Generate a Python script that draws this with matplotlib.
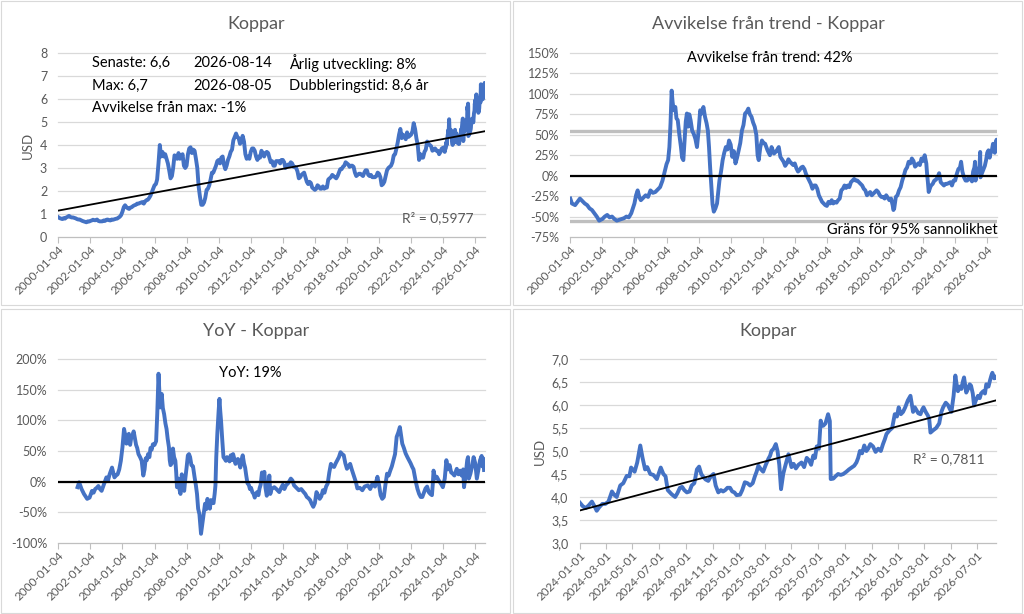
import matplotlib
matplotlib.use('Agg')
import matplotlib.pyplot as plt
import matplotlib.dates as mdates
from matplotlib.patches import Rectangle
from matplotlib.ticker import FuncFormatter, MultipleLocator
import numpy as np
import pandas as pd
from datetime import datetime, timedelta

plt.rcParams['font.family'] = ['Lato', 'DejaVu Sans']

# ---------------- data ----------------
# Monthly copper price (USD) 2000-01 .. 2023-12
price_monthly = [
    0.86, 0.82, 0.80, 0.78, 0.82, 0.80, 0.85, 0.88, 0.92, 0.87, 0.85, 0.85,
    0.83, 0.81, 0.78, 0.76, 0.76, 0.73, 0.70, 0.68, 0.66, 0.64, 0.68, 0.67,
    0.70, 0.72, 0.75, 0.73, 0.73, 0.76, 0.70, 0.68, 0.68, 0.68, 0.72, 0.70,
    0.75, 0.76, 0.73, 0.72, 0.76, 0.75, 0.77, 0.79, 0.80, 0.84, 0.88, 0.95,
    1.10, 1.30, 1.38, 1.30, 1.25, 1.22, 1.28, 1.30, 1.35, 1.38, 1.40, 1.45,
    1.45, 1.48, 1.50, 1.52, 1.45, 1.55, 1.60, 1.62, 1.70, 1.80, 1.95, 2.10,
    2.25, 2.30, 2.50, 3.20, 4.00, 3.50, 3.70, 3.50, 3.60, 3.40, 3.20, 2.90,
    2.55, 2.65, 3.00, 3.55, 3.50, 3.40, 3.65, 3.40, 3.45, 3.60, 3.10, 3.00,
    3.10, 3.60, 3.85, 3.90, 3.65, 3.80, 3.75, 3.40, 3.00, 2.20, 1.75, 1.40,
    1.40, 1.50, 1.70, 2.05, 2.10, 2.25, 2.50, 2.80, 2.80, 2.95, 3.10, 3.30,
    3.35, 3.20, 3.45, 3.50, 3.15, 2.95, 3.10, 3.35, 3.50, 3.70, 3.80, 4.20,
    4.35, 4.50, 4.35, 4.30, 4.05, 4.15, 4.40, 4.15, 3.60, 3.40, 3.50, 3.40,
    3.70, 3.85, 3.85, 3.75, 3.50, 3.35, 3.50, 3.45, 3.75, 3.65, 3.50, 3.65,
    3.70, 3.65, 3.45, 3.25, 3.30, 3.10, 3.10, 3.30, 3.30, 3.30, 3.20, 3.35,
    3.35, 3.25, 3.00, 3.05, 3.15, 3.10, 3.25, 3.20, 3.05, 3.05, 3.00, 2.85,
    2.55, 2.60, 2.70, 2.75, 2.80, 2.60, 2.40, 2.30, 2.40, 2.35, 2.15, 2.10,
    2.05, 2.10, 2.25, 2.20, 2.10, 2.10, 2.20, 2.10, 2.15, 2.15, 2.50, 2.55,
    2.60, 2.70, 2.65, 2.60, 2.55, 2.65, 2.80, 2.95, 2.95, 3.05, 3.10, 3.25,
    3.20, 3.15, 3.05, 3.10, 3.10, 3.05, 2.80, 2.65, 2.70, 2.75, 2.75, 2.70,
    2.65, 2.80, 2.90, 2.90, 2.70, 2.65, 2.70, 2.60, 2.60, 2.60, 2.65, 2.80,
    2.75, 2.60, 2.25, 2.30, 2.40, 2.65, 2.90, 3.00, 3.05, 3.10, 3.25, 3.55,
    3.60, 3.85, 4.10, 4.45, 4.70, 4.30, 4.45, 4.35, 4.25, 4.55, 4.35, 4.40,
    4.45, 4.60, 4.95, 4.70, 4.30, 4.00, 3.35, 3.60, 3.45, 3.45, 3.70, 3.80,
    4.15, 4.05, 4.00, 3.95, 3.75, 3.80, 3.85, 3.75, 3.75, 3.60, 3.70, 3.85,
]

# Recent copper price (USD) 2024-01 .. 2026-08 (one line per month)
recent_dates = [
    '2024-01-01', '2024-01-08', '2024-01-15', '2024-01-22', '2024-01-29',
    '2024-02-05', '2024-02-09', '2024-02-15', '2024-02-22', '2024-02-29',
    '2024-03-07', '2024-03-15', '2024-03-20', '2024-03-26',
    '2024-04-03', '2024-04-10', '2024-04-18', '2024-04-24', '2024-04-28',
    '2024-05-06', '2024-05-12', '2024-05-19', '2024-05-24', '2024-05-30',
    '2024-06-04', '2024-06-11', '2024-06-18', '2024-06-26',
    '2024-07-05', '2024-07-11', '2024-07-16', '2024-07-21', '2024-07-26', '2024-07-30',
    '2024-08-07', '2024-08-12', '2024-08-18', '2024-08-23', '2024-08-28',
    '2024-09-03', '2024-09-09', '2024-09-14', '2024-09-20', '2024-09-26',
    '2024-10-01', '2024-10-06', '2024-10-11', '2024-10-16', '2024-10-22', '2024-10-28',
    '2024-11-03', '2024-11-08', '2024-11-14', '2024-11-20', '2024-11-25', '2024-11-30',
    '2024-12-05', '2024-12-11', '2024-12-16', '2024-12-21', '2024-12-26',
    '2025-01-03', '2025-01-08', '2025-01-14', '2025-01-20', '2025-01-26',
    '2025-02-01', '2025-02-06', '2025-02-10', '2025-02-14', '2025-02-20', '2025-02-25',
    '2025-03-03', '2025-03-09', '2025-03-13', '2025-03-16', '2025-03-21', '2025-03-26', '2025-03-30',
    '2025-04-03', '2025-04-07', '2025-04-12', '2025-04-16', '2025-04-20', '2025-04-24',
    '2025-05-01', '2025-05-06', '2025-05-11', '2025-05-17', '2025-05-24', '2025-05-30',
    '2025-06-05', '2025-06-10', '2025-06-15', '2025-06-20', '2025-06-24', '2025-06-28',
    '2025-07-03', '2025-07-07', '2025-07-10', '2025-07-13', '2025-07-18', '2025-07-24', '2025-07-28', '2025-07-30',
    '2025-08-05', '2025-08-10', '2025-08-16', '2025-08-22', '2025-08-28',
    '2025-09-04', '2025-09-10', '2025-09-16', '2025-09-22', '2025-09-27',
    '2025-10-01', '2025-10-05', '2025-10-10', '2025-10-15', '2025-10-20', '2025-10-24', '2025-10-29',
    '2025-11-04', '2025-11-10', '2025-11-16', '2025-11-22', '2025-11-27',
    '2025-12-01', '2025-12-05', '2025-12-12', '2025-12-18', '2025-12-24', '2025-12-29',
    '2026-01-02', '2026-01-07', '2026-01-12', '2026-01-17', '2026-01-23', '2026-01-29',
    '2026-02-04', '2026-02-08', '2026-02-11', '2026-02-16', '2026-02-21', '2026-02-25', '2026-02-28',
    '2026-03-05', '2026-03-10', '2026-03-13', '2026-03-16', '2026-03-22', '2026-03-29',
    '2026-04-05', '2026-04-10', '2026-04-14', '2026-04-20', '2026-04-25', '2026-04-30',
    '2026-05-03', '2026-05-08', '2026-05-12', '2026-05-15', '2026-05-18', '2026-05-22', '2026-05-26', '2026-05-29',
    '2026-06-01', '2026-06-06', '2026-06-10', '2026-06-14', '2026-06-17', '2026-06-21', '2026-06-24', '2026-06-28',
    '2026-07-03', '2026-07-07', '2026-07-10', '2026-07-15', '2026-07-19', '2026-07-22', '2026-07-27', '2026-07-31',
    '2026-08-03', '2026-08-05', '2026-08-09', '2026-08-12', '2026-08-14',
]
recent_price = [
    3.88, 3.80, 3.76, 3.82, 3.90,
    3.78, 3.70, 3.78, 3.85, 3.85,
    3.90, 4.12, 4.05, 4.00,
    4.25, 4.30, 4.46, 4.45, 4.64,
    4.55, 4.75, 5.12, 4.86, 4.60,
    4.65, 4.50, 4.48, 4.39,
    4.64, 4.50, 4.45, 4.15, 4.10, 4.06,
    4.00, 4.08, 4.20, 4.22, 4.15,
    4.10, 4.12, 4.25, 4.30, 4.60,
    4.66, 4.50, 4.43, 4.38, 4.35, 4.45,
    4.50, 4.25, 4.10, 4.15, 4.12, 4.15,
    4.20, 4.20, 4.12, 4.10, 4.04,
    4.05, 4.15, 4.32, 4.30, 4.25,
    4.30, 4.45, 4.55, 4.68, 4.60, 4.55,
    4.70, 4.83, 4.90, 5.00, 5.05, 5.15, 5.00,
    4.70, 4.17, 4.50, 4.65, 4.79, 4.93,
    4.65, 4.72, 4.62, 4.70, 4.75, 4.65,
    4.85, 4.80, 4.70, 4.90, 4.85, 5.10,
    5.05, 5.66, 5.55, 5.55, 5.60, 5.80, 5.65, 4.39,
    4.40, 4.45, 4.50, 4.48, 4.50,
    4.55, 4.60, 4.64, 4.68, 4.75,
    4.85, 5.00, 4.95, 5.12, 5.00, 5.05, 5.15,
    5.10, 4.98, 5.05, 5.00, 5.15,
    5.25, 5.37, 5.45, 5.50, 5.80, 5.75,
    5.95, 5.80, 5.85, 5.95, 6.10, 6.20,
    5.85, 5.95, 5.90, 5.82, 5.80, 5.90, 5.95,
    5.85, 5.77, 5.70, 5.40, 5.45, 5.50,
    5.60, 5.85, 5.95, 6.05, 6.00, 5.90,
    5.85, 6.20, 6.64, 6.45, 6.30, 6.40, 6.35, 6.50,
    6.60, 6.27, 6.35, 6.45, 6.42, 6.25, 5.99, 6.10,
    6.20, 6.15, 6.25, 6.30, 6.25, 6.45, 6.40, 6.55,
    6.65, 6.70, 6.58, 6.62, 6.60,
]

# Deviation from trend (%), time in years from 2000-01-04
dev_years = [
    2000.0, 2000.1, 2000.3, 2000.45, 2000.6, 2000.75, 2000.9, 2001.05, 2001.2, 2001.35,
    2001.5, 2001.65, 2001.8, 2001.9, 2002.0, 2002.15, 2002.3, 2002.45, 2002.6, 2002.75,
    2002.9, 2003.05, 2003.2, 2003.35, 2003.5, 2003.65, 2003.8, 2003.9, 2004.0, 2004.1,
    2004.2, 2004.3, 2004.4, 2004.55, 2004.7, 2004.85, 2005.0, 2005.15, 2005.3, 2005.45,
    2005.6, 2005.75, 2005.9, 2006.0, 2006.1, 2006.18, 2006.25, 2006.32, 2006.38, 2006.45,
    2006.55, 2006.62, 2006.7, 2006.8, 2006.9, 2006.97, 2007.05, 2007.12, 2007.2, 2007.27,
    2007.35, 2007.42, 2007.5, 2007.6, 2007.7, 2007.8, 2007.9, 2008.0, 2008.1, 2008.2,
    2008.3, 2008.4, 2008.5, 2008.58, 2008.65, 2008.72, 2008.8, 2008.87, 2008.95, 2009.05,
    2009.15, 2009.3, 2009.4, 2009.5, 2009.6, 2009.7, 2009.8, 2009.9, 2010.0, 2010.1,
    2010.2, 2010.3, 2010.4, 2010.5, 2010.6, 2010.7, 2010.8, 2010.9, 2011.0, 2011.1,
    2011.2, 2011.3, 2011.4, 2011.5, 2011.6, 2011.68, 2011.75, 2011.85, 2011.95, 2012.05,
    2012.15, 2012.3, 2012.45, 2012.55, 2012.7, 2012.85, 2013.0, 2013.1, 2013.2, 2013.3,
    2013.4, 2013.5, 2013.6, 2013.7, 2013.8, 2013.9, 2014.0, 2014.1, 2014.2, 2014.3,
    2014.4, 2014.5, 2014.6, 2014.7, 2014.8, 2014.9, 2015.0, 2015.1, 2015.2, 2015.3,
    2015.4, 2015.5, 2015.6, 2015.7, 2015.8, 2015.9, 2016.0, 2016.1, 2016.2, 2016.3,
    2016.4, 2016.5, 2016.6, 2016.7, 2016.8, 2016.9, 2017.0, 2017.1, 2017.2, 2017.3,
    2017.4, 2017.5, 2017.6, 2017.7, 2017.8, 2017.9, 2018.0, 2018.1, 2018.2, 2018.3,
    2018.4, 2018.5, 2018.6, 2018.7, 2018.8, 2018.9, 2019.0, 2019.1, 2019.2, 2019.3,
    2019.4, 2019.5, 2019.6, 2019.7, 2019.8, 2019.9, 2020.0, 2020.1, 2020.15, 2020.2,
    2020.3, 2020.4, 2020.5, 2020.6, 2020.7, 2020.8, 2020.9, 2021.0, 2021.1, 2021.2,
    2021.3, 2021.4, 2021.5, 2021.6, 2021.7, 2021.8, 2021.9, 2022.0, 2022.1, 2022.2,
    2022.25, 2022.3, 2022.35, 2022.45, 2022.5, 2022.6, 2022.7, 2022.8, 2022.9, 2023.0,
    2023.1, 2023.2, 2023.3, 2023.4, 2023.5, 2023.6, 2023.7, 2023.8, 2023.9, 2024.0,
    2024.1, 2024.2, 2024.3, 2024.37, 2024.45, 2024.55, 2024.65, 2024.75, 2024.85, 2024.95,
    2025.05, 2025.12, 2025.2, 2025.24, 2025.27, 2025.35, 2025.45, 2025.52, 2025.56, 2025.58,
    2025.65, 2025.75, 2025.85, 2025.93, 2026.0, 2026.08, 2026.15, 2026.2, 2026.28, 2026.36,
    2026.42, 2026.47, 2026.52, 2026.58, 2026.61,
]
dev_pct = [
    -28, -34, -36, -32, -28, -31, -34, -36, -40, -42,
    -46, -50, -55, -54, -53, -50, -48, -51, -50, -53,
    -55, -54, -53, -52, -50, -51, -46, -40, -34, -24,
    -18, -26, -30, -27, -24, -26, -18, -21, -20, -17,
    -14, -6, 6, 14, 19, 35, 64, 104, 90, 80,
    84, 70, 68, 50, 35, 22, 19, 40, 66, 76,
    60, 75, 68, 55, 51, 45, 35, 55, 80, 76,
    84, 72, 64, 55, 35, 10, -14, -35, -44, -40,
    -34, -6, 5, 19, 28, 35, 32, 43, 38, 23,
    30, 15, 22, 31, 40, 55, 62, 76, 78, 82,
    75, 72, 65, 60, 50, 25, 19, 35, 43, 40,
    39, 31, 25, 35, 27, 30, 35, 23, 20, 17,
    12, 15, 20, 17, 15, 13, 15, 9, 5, 7,
    10, 11, 8, 2, -2, -6, -10, -16, -12, -12,
    -16, -24, -28, -32, -34, -36, -37, -32, -34, -30,
    -34, -32, -33, -30, -28, -18, -16, -12, -15, -12,
    -14, -8, -6, -4, -6, -6, -8, -10, -12, -16,
    -18, -24, -22, -20, -24, -22, -20, -18, -20, -24,
    -26, -26, -28, -24, -27, -30, -28, -36, -42, -40,
    -26, -24, -18, -14, -6, 0, 7, 10, 17, 15,
    21, 18, 11, 13, 15, 13, 21, 18, 25, 15,
    2, -8, -20, -14, -12, -10, -6, -5, -2, 3,
    -8, -10, -12, -10, -10, -9, -8, -12, -6, -6,
    2, 8, 10, 17, 5, -2, -6, -6, -2, -4,
    -7, 5, 10, 17, -6, 5, 7, 12, 29, -2,
    2, 7, 12, 19, 28, 31, 22, 27, 30, 39,
    33, 28, 40, 44, 42,
]

# Year-over-year change (%), time in years from 2000-01-04
yoy_years = [
    2001.2, 2001.3, 2001.45, 2001.6, 2001.7, 2001.8, 2001.95, 2002.1, 2002.2, 2002.3,
    2002.4, 2002.5, 2002.6, 2002.7, 2002.85, 2003.0, 2003.1, 2003.2, 2003.35, 2003.5,
    2003.6, 2003.7, 2003.8, 2003.9, 2004.0, 2004.1, 2004.18, 2004.25, 2004.33, 2004.4,
    2004.48, 2004.55, 2004.62, 2004.7, 2004.78, 2004.85, 2004.92, 2005.0, 2005.1, 2005.2,
    2005.3, 2005.38, 2005.45, 2005.52, 2005.6, 2005.68, 2005.75, 2005.82, 2005.9, 2006.0,
    2006.1, 2006.17, 2006.25, 2006.3, 2006.35, 2006.4, 2006.45, 2006.52, 2006.6, 2006.68,
    2006.75, 2006.82, 2006.9, 2006.95, 2007.0, 2007.08, 2007.15, 2007.22, 2007.3, 2007.35,
    2007.4, 2007.48, 2007.55, 2007.62, 2007.7, 2007.78, 2007.85, 2007.92, 2008.0, 2008.08,
    2008.15, 2008.22, 2008.3, 2008.4, 2008.5, 2008.58, 2008.65, 2008.72, 2008.8, 2008.85,
    2008.9, 2008.95, 2009.0, 2009.08, 2009.15, 2009.22, 2009.3, 2009.38, 2009.45, 2009.52,
    2009.6, 2009.68, 2009.75, 2009.8, 2009.85, 2009.92, 2010.0, 2010.05, 2010.1, 2010.15,
    2010.22, 2010.3, 2010.38, 2010.45, 2010.52, 2010.6, 2010.68, 2010.75, 2010.82, 2010.9,
    2010.97, 2011.05, 2011.12, 2011.2, 2011.28, 2011.35, 2011.42, 2011.5, 2011.58, 2011.65,
    2011.72, 2011.8, 2011.88, 2011.95, 2012.02, 2012.1, 2012.18, 2012.25, 2012.32, 2012.4,
    2012.48, 2012.55, 2012.62, 2012.7, 2012.78, 2012.85, 2012.92, 2013.0, 2013.08, 2013.16,
    2013.22, 2013.3, 2013.47, 2013.6, 2013.78, 2013.9, 2014.0, 2014.1, 2014.2, 2014.35,
    2014.5, 2014.6, 2014.7, 2014.85, 2015.0, 2015.15, 2015.3, 2015.4, 2015.5, 2015.6,
    2015.7, 2015.8, 2015.9, 2016.0, 2016.1, 2016.2, 2016.3, 2016.4, 2016.5, 2016.6,
    2016.7, 2016.8, 2016.9, 2017.0, 2017.1, 2017.2, 2017.3, 2017.4, 2017.5, 2017.6,
    2017.7, 2017.8, 2017.9, 2018.0, 2018.1, 2018.2, 2018.3, 2018.45, 2018.55, 2018.65,
    2018.8, 2018.96, 2019.1, 2019.3, 2019.45, 2019.6, 2019.75, 2019.9, 2020.0, 2020.1,
    2020.2, 2020.3, 2020.4, 2020.5, 2020.6, 2020.7, 2020.8, 2020.9, 2021.0, 2021.1,
    2021.2, 2021.3, 2021.38, 2021.45, 2021.55, 2021.66, 2021.77, 2021.87, 2021.97, 2022.07,
    2022.15, 2022.22, 2022.3, 2022.4, 2022.5, 2022.6, 2022.7, 2022.8, 2022.9, 2023.0,
    2023.1, 2023.2, 2023.3, 2023.35, 2023.4, 2023.5, 2023.6, 2023.7, 2023.8, 2023.9,
    2023.98, 2024.1, 2024.2, 2024.3, 2024.4, 2024.5, 2024.6, 2024.7, 2024.85, 2024.95,
    2025.05, 2025.15, 2025.25, 2025.3, 2025.4, 2025.5, 2025.55, 2025.6, 2025.7, 2025.8,
    2025.9, 2026.0, 2026.1, 2026.2, 2026.3, 2026.4, 2026.45, 2026.5, 2026.55,
]
yoy_pct = [
    -9, -1, -12, -20, -24, -28, -26, -15, -18, -12,
    -10, -7, -12, -15, -4, 7, 2, 12, 23, 7,
    10, 12, 20, 34, 56, 86, 75, 62, 72, 78,
    60, 72, 75, 82, 70, 60, 55, 45, 40, 34,
    10, 20, 38, 35, 45, 40, 55, 52, 61, 60,
    66, 110, 176, 150, 121, 135, 143, 120, 110, 95,
    86, 70, 56, 35, 27, 30, 54, 40, 34, 16,
    -9, 5, -12, -20, 12, -5, -15, 5, 23, 43,
    45, 40, 27, 25, 7, -6, -20, -44, -53, -70,
    -85, -75, -64, -50, -36, -45, -28, -35, -44, -30,
    -33, -35, -20, -6, 40, 80, 116, 135, 115, 99,
    70, 40, 37, 34, 40, 37, 33, 43, 35, 45,
    38, 29, 35, 37, 30, 23, 35, 43, 30, 23,
    10, -3, -5, -12, -10, -17, -20, -26, -20, -17,
    -22, -11, -5, 15, 8, 16, -10, -23, -15, 10,
    -20, -12, -9, -12, -17, -10, -5, -12, -6, -2,
    5, 2, -6, -10, -14, -12, -17, -20, -25, -27,
    -30, -36, -41, -35, -17, -22, -28, -24, -14, -18,
    -8, -3, 15, 29, 25, 24, 30, 35, 40, 48,
    45, 43, 30, 21, 25, 29, 20, 8, 0, -11,
    -10, -14, -8, -6, -12, -3, -8, 8, -5, -22,
    -28, -25, -5, 13, 10, 18, 25, 35, 45, 73,
    80, 89, 75, 62, 55, 46, 40, 35, 30, 24,
    20, 10, -1, -12, -20, -25, -25, -18, -11, -8,
    -17, -20, -22, -5, 18, 5, 8, 3, -1, -5,
    -9, 5, 35, 20, 27, 15, 13, 10, 21, 12,
    18, 10, 20, -9, 10, 35, 40, 5, 13, 25,
    40, 30, 5, 20, 35, 42, 25, 38, 19,
]

long_ticks = [f'{y}-01-04' for y in range(2000, 2027, 2)]
recent_ticks = ['2024-01-01', '2024-03-01', '2024-05-01', '2024-07-01', '2024-09-01',
                '2024-11-01', '2025-01-01', '2025-03-01', '2025-05-01', '2025-07-01',
                '2025-09-01', '2025-11-01', '2026-01-01', '2026-03-01', '2026-05-01',
                '2026-07-01']

# ---------------- helpers ----------------
W, H = 1024, 614
BLUE = '#4472C4'
GRAY_TXT = '#595959'
GRID = '#D9D9D9'
LW = 2.8

base = datetime(2000, 1, 4)


def yrs_to_dates(yrs):
    return [base + timedelta(days=(y - 2000.0) * 365.25) for y in yrs]


monthly_dates = list(pd.date_range('2000-01-01', periods=len(price_monthly), freq='MS') + pd.Timedelta(days=3))
rec_dates = list(pd.to_datetime(recent_dates))
long_dates = monthly_dates + rec_dates
long_price = list(price_monthly) + list(recent_price)
end_date = pd.Timestamp(recent_dates[-1])


def trend(dates, vals):
    x = mdates.date2num(dates)
    w = np.sqrt(np.gradient(x))
    c = np.polyfit(x, np.asarray(vals), 1, w=w)
    xs = np.array([x[0], x[-1]])
    return mdates.num2date(xs), np.polyval(c, xs)


def fx(px):
    return px / W


def fy(py):
    return 1 - py / H


def make_ax(l, r, t, b):
    return fig.add_axes([fx(l), fy(b), fx(r) - fx(l), fy(t) - fy(b)])


def style(ax, ticks, ylo, yhi, ystep, yfmt):
    for s in ['left', 'right', 'top']:
        ax.spines[s].set_visible(False)
    ax.spines['bottom'].set_color('#BFBFBF')
    ax.spines['bottom'].set_linewidth(0.8)
    ax.set_ylim(ylo, yhi)
    ax.yaxis.set_major_locator(MultipleLocator(ystep))
    ax.yaxis.set_major_formatter(FuncFormatter(yfmt))
    ax.grid(axis='y', color=GRID, lw=0.9)
    ax.set_axisbelow(True)
    for gl in ax.get_ygridlines():
        gl.set_clip_on(False)
    ax.tick_params(axis='y', length=0, pad=8, labelsize=9, labelcolor=GRAY_TXT)
    ax.set_xticks(pd.to_datetime(ticks))
    ax.set_xticklabels(ticks)
    ax.tick_params(axis='x', length=4, width=0.8, color='#BFBFBF', pad=1,
                   labelsize=8.5, labelcolor=GRAY_TXT)
    for lbl in ax.get_xticklabels():
        lbl.set_rotation(45)
        lbl.set_ha('right')
        lbl.set_va('top')
        lbl.set_rotation_mode('anchor')


fig = plt.figure(figsize=(W / 100, H / 100), dpi=100)
fig.patch.set_facecolor('white')

# panel borders
for (x0, y0, w, h) in [(1, 1, 509, 304), (513, 1, 509, 304), (1, 309, 509, 304), (513, 309, 509, 304)]:
    fig.add_artist(Rectangle((fx(x0), fy(y0 + h)), w / W, h / H, transform=fig.transFigure,
                             fill=False, edgecolor='#D9D9D9', lw=0.8))

title_kw = dict(ha='center', va='center', fontsize=13, color=GRAY_TXT)
fig.text(fx(256), fy(24), 'Koppar', **title_kw)
fig.text(fx(768), fy(24), 'Avvikelse från trend - Koppar', **title_kw)
fig.text(fx(256), fy(331), 'YoY - Koppar', **title_kw)
fig.text(fx(768), fy(331), 'Koppar', **title_kw)

num_fmt = lambda v, p: f'{v:.0f}'
pct_fmt = lambda v, p: f'{v:.0f}%'
dec_fmt = lambda v, p: f'{v:.1f}'.replace('.', ',')

# ---- top-left: long price ----
ax1 = make_ax(58.3, 485, 53, 237)
ax1.plot(long_dates, long_price, color=BLUE, lw=LW, solid_joinstyle='round')
td, tv = trend(long_dates, long_price)
ax1.plot(td, tv, color='black', lw=1.3)
ax1.set_xlim(pd.Timestamp('2000-01-04'), end_date)
style(ax1, long_ticks, 0, 8, 1, num_fmt)
fig.text(fx(28), fy(145), 'USD', rotation=90, ha='center', va='center', fontsize=9.5, color=GRAY_TXT)
tk = dict(fontsize=10.5, color='black', va='center', ha='left')
fig.text(fx(92), fy(63), 'Senaste: 6,6', **tk)
fig.text(fx(193), fy(63), '2026-08-14', **tk)
fig.text(fx(289), fy(63), 'Årlig utveckling: 8%', **tk)
fig.text(fx(92), fy(86), 'Max: 6,7', **tk)
fig.text(fx(193), fy(86), '2026-08-05', **tk)
fig.text(fx(289), fy(86), 'Dubbleringstid: 8,6 år', **tk)
fig.text(fx(92), fy(108), 'Avvikelse från max: -1%', **tk)
fig.text(fx(473), fy(218), 'R² = 0,5977', fontsize=10, color=GRAY_TXT, ha='right', va='center')

# ---- top-right: deviation from trend ----
ax2 = make_ax(570.3, 997, 53, 237)
ax2.axhline(55, color='#BFBFBF', lw=2.4, zorder=1.5)
ax2.axhline(-55, color='#BFBFBF', lw=2.4, zorder=1.5)
ax2.plot(yrs_to_dates(dev_years), dev_pct, color=BLUE, lw=LW, solid_joinstyle='round', zorder=2)
ax2.axhline(0, color='black', lw=1.6, zorder=3)
ax2.set_xlim(pd.Timestamp('2000-01-04'), end_date)
style(ax2, long_ticks, -75, 150, 25, pct_fmt)
fig.text(fx(770), fy(58), 'Avvikelse från trend: 42%', fontsize=10.5, color='black', ha='center', va='center')
fig.text(fx(998), fy(230), 'Gräns för 95% sannolikhet', fontsize=10.5, color='black', ha='right', va='center')

# ---- bottom-left: YoY ----
ax3 = make_ax(58.3, 485, 359, 543)
ax3.plot(yrs_to_dates(yoy_years), yoy_pct, color=BLUE, lw=LW, solid_joinstyle='round', zorder=2)
ax3.axhline(0, color='black', lw=1.6, zorder=3)
ax3.set_xlim(pd.Timestamp('2000-01-04'), end_date)
style(ax3, long_ticks, -100, 200, 50, pct_fmt)
fig.text(fx(250), fy(373), 'YoY: 19%', fontsize=10.5, color='black', ha='center', va='center')

# ---- bottom-right: recent price ----
ax4 = make_ax(579.7, 996.3, 359, 543)
ax4.plot(rec_dates, recent_price, color=BLUE, lw=LW, solid_joinstyle='round')
td, tv = trend(rec_dates, recent_price)
ax4.plot(td, tv, color='black', lw=1.3)
ax4.set_xlim(pd.Timestamp('2024-01-01'), end_date)
style(ax4, recent_ticks, 3.0, 7.0, 0.5, dec_fmt)
fig.text(fx(540), fy(451), 'USD', rotation=90, ha='center', va='center', fontsize=9.5, color=GRAY_TXT)
fig.text(fx(985), fy(459), 'R² = 0,7811', fontsize=10, color=GRAY_TXT, ha='right', va='center')

fig.savefig('out.png', dpi=100)
